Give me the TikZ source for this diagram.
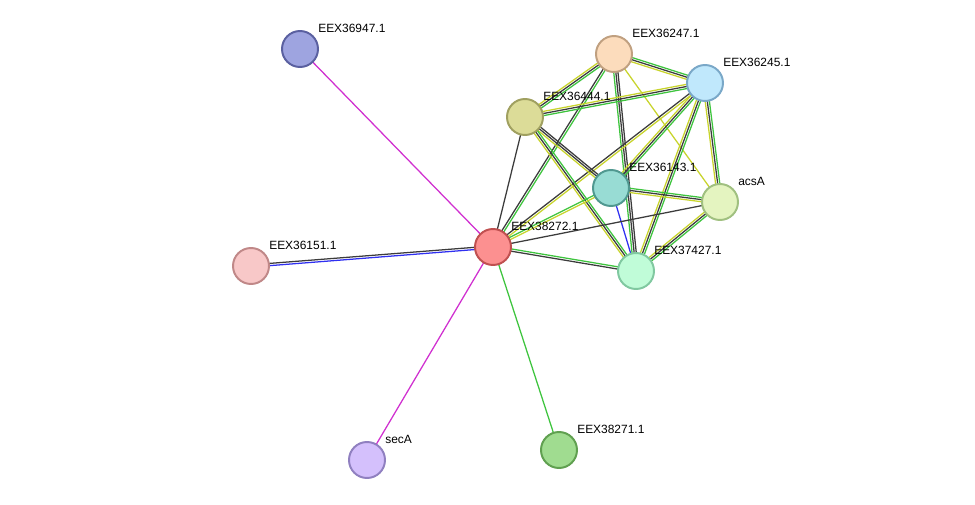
\documentclass[tikz,border=0pt]{standalone}
\usepackage{fontspec}
\setmainfont{Liberation Sans}
\usetikzlibrary{calc}
\definecolor{tmine}{HTML}{C8D42C}
\definecolor{coex}{HTML}{3C3C3C}
\definecolor{nbhd}{HTML}{3EC43E}
\definecolor{homol}{HTML}{3030F0}
\definecolor{exper}{HTML}{D030D0}
% node fill / border colours
\definecolor{f36947}{HTML}{9EA4E0}\definecolor{d36947}{HTML}{5A60A0}
\definecolor{f36247}{HTML}{FCDCBC}\definecolor{d36247}{HTML}{C0A080}
\definecolor{f36245}{HTML}{C0E8FC}\definecolor{d36245}{HTML}{7AA8C8}
\definecolor{f36444}{HTML}{DCDC98}\definecolor{d36444}{HTML}{A0A060}
\definecolor{f36143}{HTML}{98DCD4}\definecolor{d36143}{HTML}{509890}
\definecolor{facsA}{HTML}{E4F4C0}\definecolor{dacsA}{HTML}{A0C080}
\definecolor{f38272}{HTML}{FC9090}\definecolor{d38272}{HTML}{C05050}
\definecolor{f36151}{HTML}{F8C8C8}\definecolor{d36151}{HTML}{C08888}
\definecolor{f37427}{HTML}{C0FCD8}\definecolor{d37427}{HTML}{80C8A0}
\definecolor{fsecA}{HTML}{D4C0FC}\definecolor{dsecA}{HTML}{9080C0}
\definecolor{f38271}{HTML}{A0DC90}\definecolor{d38271}{HTML}{60A050}
\tikzset{
  prot/.style={circle, draw=d#1, fill=f#1, line width=1.4pt, minimum size=0.9cm, inner sep=0pt},
  lbl/.style={anchor=west, inner sep=0pt, font=\fontsize{8.5}{10}\selectfont}
}
% parallel edge lines between two nodes
\newcommand{\link}[3]{%
  \foreach \c/\o in {#3} {
    \draw[\c, line width=0.9pt] ($(#1)!\o pt!90:(#2)$) -- ($(#2)!\o pt!-90:(#1)$);
  }}
\begin{document}
\begin{tikzpicture}[x=0.025cm, y=-0.025cm]
    \useasboundingbox (0,0) rectangle (975,505);

    % node positions
    \coordinate (p36947) at (300,49);
    \coordinate (p36247) at (614,54);
    \coordinate (p36245) at (705,83);
    \coordinate (p36444) at (525,117);
    \coordinate (p36143) at (611,188);
    \coordinate (pacsA) at (720,202);
    \coordinate (p38272) at (493,247);
    \coordinate (p36151) at (251,266);
    \coordinate (p37427) at (636,271);
    \coordinate (psecA) at (367,460);
    \coordinate (p38271) at (559,450);

    % edges
    \link{p36247}{p36245}{tmine/-1.5,coex/0,nbhd/1.5}
    \link{p36247}{p36444}{tmine/-1.5,coex/0,nbhd/1.5}
    \link{p36247}{p38272}{coex/-0.8,nbhd/0.8}
    \link{p36247}{pacsA}{tmine/0}
    \link{p36247}{p37427}{nbhd/-1.5,coex/0,coex/1.5}
    \link{p36245}{p36444}{tmine/-1.5,coex/0,nbhd/1.5}
    \link{p36245}{p38272}{coex/-0.8,tmine/0.8}
    \link{p36245}{p36143}{tmine/-1.5,coex/0,nbhd/1.5}
    \link{p36245}{pacsA}{tmine/-1.5,coex/0,nbhd/1.5}
    \link{p36245}{p37427}{tmine/-1.5,coex/0,nbhd/1.5}
    \link{p36444}{p38272}{coex/0}
    \link{p36444}{p36143}{tmine/-1.5,coex/0,coex/1.5}
    \link{p36444}{p37427}{tmine/-1.5,coex/0,nbhd/1.5}
    \link{p36143}{p38272}{nbhd/-0.8,tmine/0.8}
    \link{p36143}{pacsA}{tmine/-1.5,coex/0,nbhd/1.5}
    \link{p36143}{p37427}{homol/0}
    \link{pacsA}{p38272}{coex/0}
    \link{pacsA}{p37427}{tmine/-1.5,coex/0,nbhd/1.5}
    \link{p38272}{p37427}{coex/-0.8,nbhd/0.8}
    \link{p38272}{p36947}{exper/0}
    \link{p38272}{p36151}{coex/-0.8,homol/0.8}
    \link{p38272}{psecA}{exper/0}
    \link{p38272}{p38271}{nbhd/0}

    % proteins
    \foreach \n in {36947,36247,36245,36444,36143,acsA,38272,36151,37427,secA,38271}
      \node[prot=\n] (n\n) at (p\n) {};

    % labels
    \foreach \n/\t in {36947/EEX36947.1, 36247/EEX36247.1, 36245/EEX36245.1,
        36444/EEX36444.1, 36143/EEX36143.1, acsA/acsA, 38272/EEX38272.1,
        36151/EEX36151.1, 37427/EEX37427.1, secA/secA, 38271/EEX38271.1}
      \node[lbl] (l\n) at ($(n\n)+(18,-21)$) {\t};
\end{tikzpicture}
\end{document}
